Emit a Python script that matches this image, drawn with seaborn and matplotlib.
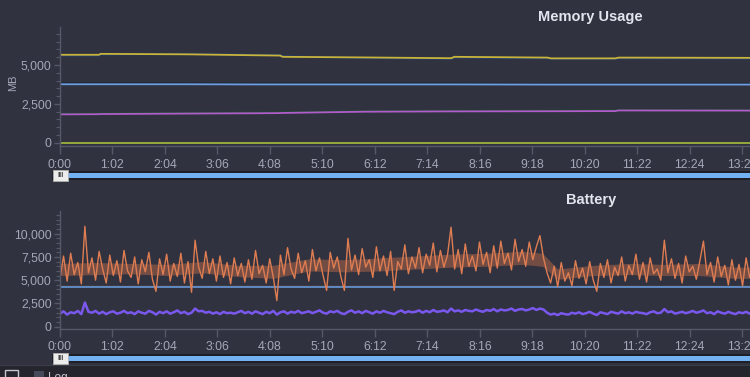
import numpy as np
import pandas as pd
import matplotlib
matplotlib.use("Agg")
import matplotlib.pyplot as plt
import seaborn as sns
from matplotlib.ticker import FuncFormatter, MultipleLocator
from matplotlib.patches import Rectangle

# ---------------- data ----------------
# Memory Usage (MB), time in minutes
mem_time = [0, 46, 48, 150, 230, 260, 263, 360, 462, 466, 576, 580, 656, 660, 840]
mem_yellow = [5650, 5650, 5710, 5680, 5620, 5600, 5520, 5480, 5430, 5520, 5470, 5420, 5420, 5470, 5450]
mem_navy = [5600, 5600, 5660, 5700, 5650, 5640, 5560, 5440, 5390, 5470, 5420, 5380, 5380, 5420, 5400]
mem_blue = [3760, 3760, 3760, 3760, 3750, 3750, 3750, 3750, 3750, 3750, 3740, 3740, 3740, 3740, 3740]
mem_darkline = [3830, 3830, 3830, 3830, 3820, 3820, 3820, 3820, 3820, 3820, 3810, 3810, 3810, 3810, 3810]
mem_magenta = [1830, 1840, 1850, 1880, 1900, 1910, 1920, 2000, 2020, 2020, 2030, 2030, 2040, 2080, 2070]
mem_green = [1890, 1900, 1910, 1940, 1960, 1970, 1980, 2060, 2080, 2080, 2090, 2090, 2100, 2130, 2130]
mem_olive = [0, 0, 0, 0, 0, 0, 0, 0, 0, 0, 0, 0, 0, 0, 0]

# Battery, sampled every 4.2 minutes
battery_step_min = 4.2
bat_orange = [
    5200, 7600, 4900, 7900, 5600, 6900, 4600, 10800, 5800, 7400,
    5000, 8100, 6200, 4700, 7700, 5500, 7100, 4800, 8200, 6000,
    5300, 7500, 4600, 7200, 5900, 8000, 5100, 3800, 7300, 5600,
    7800, 4900, 6800, 5400, 7900, 4700, 7000, 3700, 9300, 6400,
    5200, 8100, 5700, 7300, 4900, 7600, 5300, 6900, 4600, 7400,
    5500, 6800, 4800, 7200, 5100, 8200, 5700, 6600, 4700, 7300,
    5300, 2800, 7700, 5600, 8500, 6200, 5200, 7900, 5800, 7100,
    4900, 8300, 6000, 7400, 5500, 3900, 8000, 6300, 7500, 5400,
    3900, 9500, 6100, 7700, 5600, 8400, 6400, 7200, 5300, 8600,
    6000, 7600, 5500, 8100, 3900, 7000, 6200, 8800, 5700, 7500,
    6300, 8500, 5800, 7800, 6600, 9000, 5900, 8200, 6400, 7700,
    10700, 6200, 8300, 5700, 8900, 6500, 7600, 6000, 9100, 6700,
    8000, 5800, 8700, 6300, 9200, 6800, 7900, 6100, 9400, 7000,
    8300, 6500, 9100, 7200, 8600, 9800, 7400, 5800, 4700, 6500,
    4300, 6900, 4900, 5800, 4400, 7100, 5200, 6300, 4600, 7000,
    5000, 3800, 6800, 5300, 7200, 4700, 6400, 5500, 7500, 4900,
    6600, 5600, 7800, 5100, 6900, 4800, 7400, 5700, 6200, 5000,
    9300, 5800, 7300, 5200, 6800, 4700, 7600, 5900, 6500, 5100,
    7100, 9200, 5600, 6900, 4800, 7500, 5400, 6600, 4500, 7200,
    5000, 6700, 4400, 7400, 5300, 6100, 4200, 6800, 3900, 6300,
]
bat_purple = [
    1400, 1650, 1300, 1550, 1450, 1700, 1350, 2600, 1600, 1500,
    1700, 1400, 1600, 1350, 1550, 1650, 1400, 1500, 1700, 1450,
    1550, 1350, 1650, 1500, 1400, 1700, 1550, 1300, 1600, 1450,
    1650, 1400, 1550, 1750, 1450, 1600, 1350, 1500, 1950, 1650,
    1700, 1500, 1600, 1400, 1550, 1350, 1600, 1450, 1500, 1400,
    1550, 1700, 1450, 1600, 1400, 1650, 1500, 1350, 1600, 1450,
    1700, 1300, 1550, 1650, 1400, 1600, 1500, 1700, 1450, 1550,
    1650, 1450, 1600, 1750, 1500, 1400, 1650, 1550, 1700, 1450,
    1350, 1600, 1750, 1500, 1650, 1450, 1700, 1550, 1400, 1650,
    1500, 1700, 1550, 1450, 1350, 1600, 1750, 1500, 1650, 1550,
    1600, 1750, 1500, 1700, 1550, 1800, 1600, 1650, 1750, 1550,
    1950, 1650, 1750, 1600, 1800, 1700, 1650, 1850, 1700, 1600,
    1800, 1700, 1900, 1650, 1850, 1750, 1800, 1950, 1700, 1850,
    1900, 1750, 1850, 2000, 1800, 1950, 1850, 1500, 1300, 1400,
    1250, 1450, 1350, 1300, 1500, 1400, 1550, 1350, 1450, 1600,
    1400, 1250, 1550, 1450, 1350, 1600, 1500, 1400, 1650, 1450,
    1550, 1400, 1600, 1500, 1450, 1350, 1550, 1650, 1450, 1500,
    1900, 1550, 1650, 1400, 1500, 1600, 1450, 1550, 1700, 1500,
    1600, 1750, 1450, 1550, 1350, 1650, 1500, 1400, 1600, 1450,
    1350, 1550, 1450, 1600, 1400, 1500, 1300, 1550, 1450, 1350,
]
# dense core of the orange trace (read as a band)
core_time = [0, 42, 84, 126, 168, 210, 252, 294, 336, 378, 420,
             462, 504, 546, 570, 588, 630, 672, 714, 756, 798, 840]
core_low = [5500, 5600, 5700, 5500, 5800, 5400, 5200, 6000, 5900, 6000, 6200,
            6400, 6500, 6700, 6500, 5100, 5500, 5600, 5500, 5500, 5200, 5200]
core_high = [6800, 6900, 6800, 6700, 7000, 6600, 6600, 7300, 7200, 7400, 7600,
             7800, 7900, 8100, 7900, 6200, 6600, 6800, 6700, 6800, 6400, 6400]

bat_ref_time = [0, 840]
bat_ref_blue = [4250, 4250]
bat_ref_brown = [4340, 4340]

tick_step_min = 62

# ---------------- style ----------------
BG = "#30323f"
TXT = "#a3a7b8"
SPINE = "#555869"
sns.set_theme(style="dark")
plt.rcParams["font.family"] = ["Liberation Sans", "DejaVu Sans"]
plt.rcParams["axes.facecolor"] = BG
plt.rcParams["figure.facecolor"] = BG

W, H = 750, 377
fig = plt.figure(figsize=(W / 100, H / 100), dpi=100, facecolor=BG)


def fr(x, y, w, h):
    return (x / W, (H - y - h) / H, w / W, h / H)


ax1 = fig.add_axes(fr(60, 27.5, 711, 118.5))
ax2 = fig.add_axes(fr(60, 211.4, 711, 117.6))

# memory
mem_series = [
    ("navy", mem_navy, "#22407a", 1.2),
    ("yellow", mem_yellow, "#c9b43a", 1.3),
    ("dark", mem_darkline, "#1d2433", 1.0),
    ("blue", mem_blue, "#6d9ee2", 1.3),
    ("green", mem_green, "#1e4a2e", 1.0),
    ("magenta", mem_magenta, "#b15ccb", 1.3),
    ("olive", mem_olive, "#9db33b", 1.3),
]
for name, vals, col, lw in mem_series:
    sns.lineplot(x=mem_time, y=vals, ax=ax1, color=col, linewidth=lw, legend=False)

# battery
bat_time = [i * battery_step_min for i in range(len(bat_orange))]
bat_df = pd.DataFrame({"t": bat_time, "orange": bat_orange, "purple": bat_purple})
sns.lineplot(x=bat_ref_time, y=bat_ref_brown, ax=ax2, color="#7a5530", linewidth=1.0)
sns.lineplot(x=bat_ref_time, y=bat_ref_blue, ax=ax2, color="#5f95dc", linewidth=1.2)
ax2.fill_between(core_time, core_low, core_high, color="#d8784e", alpha=0.4, linewidth=0)
sns.lineplot(data=bat_df, x="t", y="orange", ax=ax2, color="#df7d52", linewidth=1.0)
sns.lineplot(data=bat_df, x="t", y="purple", ax=ax2, color="#7a58ee", linewidth=1.8)


def fmt_time(v, pos):
    v = int(round(v))
    return f"{v // 60}:{v % 60:02d}"


for ax, ylim, ymaj in [(ax1, (-200, 7400), 2500), (ax2, (-250, 12400), 2500)]:
    ax.set_xlim(0, 840)
    ax.set_ylim(*ylim)
    ax.set_facecolor(BG)
    ax.grid(False)
    ax.xaxis.set_major_locator(MultipleLocator(tick_step_min))
    ax.xaxis.set_major_formatter(FuncFormatter(fmt_time))
    ax.yaxis.set_major_locator(MultipleLocator(ymaj))
    ax.yaxis.set_minor_locator(MultipleLocator(500))
    ax.yaxis.set_major_formatter(FuncFormatter(lambda v, p: f"{int(v):,}"))
    for s in ["top", "right"]:
        ax.spines[s].set_visible(False)
    for s in ["left", "bottom"]:
        ax.spines[s].set_color(SPINE)
        ax.spines[s].set_linewidth(1.0)
    ax.tick_params(axis="x", colors=SPINE, labelcolor=TXT, labelsize=8.8,
                   length=6, width=1, pad=3, direction="out", bottom=True)
    ax.tick_params(axis="y", which="major", colors=SPINE, labelcolor=TXT,
                   labelsize=8.8, length=4, width=1, pad=2, left=True)
    ax.tick_params(axis="y", which="minor", colors=SPINE, length=3, width=0.8, left=True)
    ax.set_xlabel("")
    ax.set_ylabel("")

ax1.set_ylabel("MB", color=TXT, fontsize=8)
ax1.yaxis.set_label_coords(-0.059, 0.53)

fig.text(590 / W, 1 - 17 / H, "Memory Usage", ha="center", va="center",
         color="#e2e4ee", fontsize=10.5, fontweight="bold")
fig.text(591 / W, 1 - 200 / H, "Battery", ha="center", va="center",
         color="#e2e4ee", fontsize=10.5, fontweight="bold")


def rect(x, y, w, h, **kw):
    r = Rectangle((x / W, (H - y - h) / H), w / W, h / H, transform=fig.transFigure, **kw)
    fig.patches.append(r)
    return r


# sliders
for ty in [171, 354]:
    rect(52, ty, 700, 9, facecolor="#1e1f27", edgecolor="none")
    rect(67, ty + 2, 690, 5, facecolor="#72b2f2", edgecolor="none")
    rect(53, ty - 1, 15, 11, facecolor="#ececec", edgecolor="#b0b0b0", linewidth=0.6)
    fig.text(60.5 / W, 1 - (ty + 4.5) / H, "III", ha="center", va="center",
             color="#444444", fontsize=5.5, fontweight="bold")

# footer
rect(0, 365, 750, 12, facecolor="#24252d", edgecolor="none")
rect(0, 364.5, 750, 1, facecolor="#3b3d49", edgecolor="none")
rect(5, 370, 13, 10, facecolor="none", edgecolor="#c8c8d0", linewidth=1.0)
rect(34, 371, 10, 9, facecolor="#474a5a", edgecolor="none")
fig.text(48 / W, 1 - 372 / H, "Log", ha="left", va="top", color="#c4c6d0", fontsize=8.5)

fig.savefig("out.png", dpi=100, facecolor=BG)
